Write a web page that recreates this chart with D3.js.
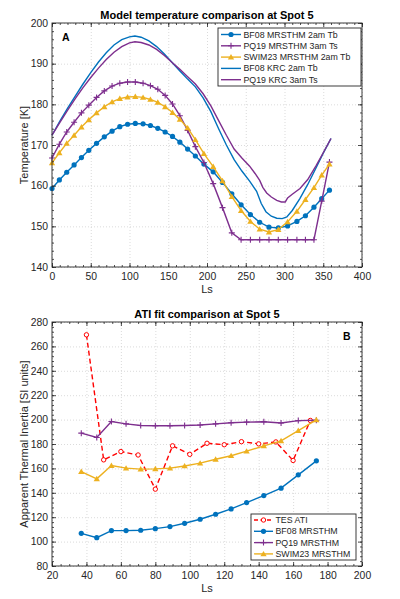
<!DOCTYPE html>
<html>
<head>
<meta charset="utf-8">
<script src="https://cdn.jsdelivr.net/npm/d3@7"></script>
<style>
    body { margin: 0; background: #fff; }
    svg text { font-family: "Liberation Sans", Arial, Helvetica, sans-serif; fill: #262626; }
</style>
</head>
<body>
<div id="chart"></div>
<script>

// ---------- Panel A: model temperature at Spot 5 ----------
const lsModel = [0, 9.5, 19, 28.5, 38, 47.5, 57.5, 67.5, 77.5, 87.5, 97.5, 107.5, 117.5, 127, 136.5,
    146, 155.5, 165, 175, 185, 196, 208, 220, 232, 244, 256, 268, 280, 292, 304, 316, 327, 338, 348, 358];
const bf08Mrsthm = [159.3, 161.4, 163.3, 165.1, 166.9, 168.7, 170.4, 172.0, 173.4, 174.5, 175.1, 175.3, 175.2, 174.8, 174.1,
    173.2, 172.1, 170.7, 169.0, 167.3, 165.3, 163.4, 160.8, 158.0, 155.3, 152.9, 151.0, 149.8, 149.6, 150.1, 151.2, 152.6, 154.7, 156.8, 158.9];
const pq19Mrsthm = [166.8, 170.2, 173.2, 175.6, 177.9, 179.8, 181.7, 183.3, 184.5, 185.2, 185.5, 185.5, 185.2, 184.6, 183.7,
    182.2, 180.1, 177.2, 173.6, 169.6, 165.7, 160.5, 154.6, 148.4, 146.7, 146.7, 146.7, 146.7, 146.7, 146.7, 146.7, 146.7, 146.7, 156.2, 165.8];
const swim23Mrsthm = [165.6, 168.1, 170.4, 172.4, 174.4, 176.2, 177.9, 179.4, 180.6, 181.4, 181.8, 181.9, 181.7, 181.2, 180.5,
    179.4, 178.0, 176.3, 174.2, 171.3, 167.9, 164.7, 161.2, 157.3, 153.9, 151.2, 149.3, 148.6, 149.2, 151.1, 153.7, 156.6, 159.5, 162.6, 165.3];

const lsBf08Krc = [0, 10, 20, 30, 40, 50, 60, 70, 80, 90, 100, 107, 115, 125, 135, 145, 155, 165, 175, 185, 195, 205, 215,
    225, 235, 245, 255, 264, 270, 276, 283, 290, 297, 303, 310, 320, 330, 340, 350, 360];
const bf08Krc = [172.4, 175.8, 179.0, 182.0, 185.0, 187.8, 190.4, 192.7, 194.6, 195.9, 196.6, 196.8, 196.5, 195.6, 194.2, 192.4,
    190.3, 188.2, 186.2, 184.3, 181.6, 178.2, 174.0, 170.0, 166.4, 163.6, 161.1, 158.6, 155.6, 153.6, 152.5, 152.0, 151.9, 152.3,
    153.9, 156.9, 160.3, 164.1, 168.0, 171.6];
const lsPq19Krc = [0, 10, 20, 30, 40, 50, 60, 70, 80, 90, 100, 107, 115, 125, 135, 145, 155, 165, 175, 185, 195, 205, 215,
    225, 235, 245, 255, 262, 268, 272, 277, 283, 290, 296, 301, 304, 310, 320, 330, 341, 350, 360];
const pq19Krc = [172.4, 175.5, 178.5, 181.4, 184.1, 186.6, 188.9, 191.0, 192.8, 194.2, 195.1, 195.4, 195.2, 194.6, 193.5, 192.0,
    190.3, 188.6, 186.8, 185.0, 182.6, 179.6, 176.0, 172.4, 169.0, 166.8, 164.8, 163.0, 161.3, 159.6, 158.2, 157.2, 156.4, 156.0,
    156.0, 157.0, 157.9, 159.3, 161.5, 165.0, 168.1, 171.6];

// ---------- Panel B: ATI fit at Spot 5 ----------
const lsTes = [40, 50, 60, 70, 80, 90, 100, 110, 120, 130, 140, 150, 160, 170];
const tesAti = [269.5, 167.0, 173.8, 171.0, 143.0, 178.5, 171.5, 180.6, 179.4, 181.9, 180.1, 181.7, 166.5, 199.3];

const lsFit = [37, 46, 54.5, 63, 71.5, 80, 88.5, 97, 106, 115, 124, 133, 143, 153, 163, 173.5];
const bf08Ati = [106.8, 103.2, 109.0, 109.0, 109.3, 110.6, 112.3, 115.0, 118.3, 122.4, 126.8, 132.0, 137.7, 143.8, 154.7, 166.2];
const pq19Ati = [188.9, 185.3, 198.4, 196.5, 195.2, 195.0, 195.0, 195.2, 195.6, 196.5, 197.4, 197.9, 198.2, 197.2, 199.2, 199.5];
const swim23Ati = [157.4, 151.4, 162.3, 160.2, 159.4, 159.6, 160.2, 162.0, 164.3, 167.5, 170.4, 174.1, 178.5, 182.6, 191.0, 199.8];

// tick labels
const xTicksA = [0, 50, 100, 150, 200, 250, 300, 350, 400];
const yTicksA = [140, 150, 160, 170, 180, 190, 200];
const xTicksB = [20, 40, 60, 80, 100, 120, 140, 160, 180, 200];
const yTicksB = [80, 100, 120, 140, 160, 180, 200, 220, 240, 260, 280];

const BLUE = "#0072BD", PURPLE = "#7E2F8E", YELLOW = "#EDB120", RED = "#FF0000";


class PanelVis {

    constructor(svg, cfg) {
        this.svg = svg;
        this.cfg = cfg;
        this.initVis();
    }

    initVis() {
        let vis = this;
        let c = vis.cfg;

        vis.left = 52;
        vis.right = 362;
        vis.width = vis.right - vis.left;
        vis.height = c.bottom - c.top;

        vis.g = vis.svg.append("g")
            .attr("transform", "translate(" + vis.left + "," + c.top + ")");

        vis.x = d3.scaleLinear().domain(c.xDomain).range([0, vis.width]);
        vis.y = d3.scaleLinear().domain(c.yDomain).range([vis.height, 0]);

        // dotted grid
        vis.g.append("g")
            .attr("class", "grid")
            .attr("transform", "translate(0," + vis.height + ")")
            .call(d3.axisBottom(vis.x).tickValues(c.xTicks).tickSize(-vis.height).tickFormat(""));
        vis.g.append("g")
            .attr("class", "grid")
            .call(d3.axisLeft(vis.y).tickValues(c.yTicks).tickSize(-vis.width).tickFormat(""));
        vis.g.selectAll(".grid .domain").remove();
        vis.g.selectAll(".grid line")
            .attr("stroke", "#d2d2d2")
            .attr("stroke-width", 0.8)
            .attr("stroke-dasharray", "1,2");

        vis.updateVis();
    }

    drawMarker(sel, type, color) {
        if (type === "circle") {
            sel.append("circle").attr("r", 2.6).attr("fill", color);
        } else if (type === "open") {
            sel.append("circle").attr("r", 2.2).attr("fill", "#fff")
                .attr("stroke", color).attr("stroke-width", 1);
        } else if (type === "plus") {
            sel.append("path").attr("d", "M-3,0H3M0,-3V3")
                .attr("stroke", color).attr("stroke-width", 1.1);
        } else if (type === "tri") {
            sel.append("path").attr("d", d3.symbol(d3.symbolTriangle, 17)())
                .attr("transform", "translate(0,0.6)")
                .attr("fill", color);
        }
    }

    updateVis() {
        let vis = this;
        let c = vis.cfg;

        let line = d3.line()
            .x(d => vis.x(d[0]))
            .y(d => vis.y(d[1]));

        c.series.forEach(s => {
            let pts = s.xs.map((v, i) => [v, s.ys[i]]);
            vis.g.append("path")
                .datum(pts)
                .attr("d", line)
                .attr("fill", "none")
                .attr("stroke", s.color)
                .attr("stroke-width", 1.4)
                .attr("stroke-dasharray", s.dash ? "5,3" : null);

            if (s.marker) {
                vis.g.append("g").selectAll("g")
                    .data(pts)
                    .join("g")
                    .attr("transform", d => "translate(" + vis.x(d[0]) + "," + vis.y(d[1]) + ")")
                    .each(function () { vis.drawMarker(d3.select(this), s.marker, s.color); });
            }
        });

        // axes: inward major and minor ticks on all four sides
        let axes = [
            {ax: d3.axisBottom(vis.x).tickValues(c.xTicks).tickSize(-4).tickPadding(6), t: "translate(0," + vis.height + ")", lab: true},
            {ax: d3.axisBottom(vis.x).tickValues(c.xMinor).tickSize(-2).tickFormat(""), t: "translate(0," + vis.height + ")"},
            {ax: d3.axisTop(vis.x).tickValues(c.xTicks).tickSize(-4).tickFormat(""), t: null},
            {ax: d3.axisTop(vis.x).tickValues(c.xMinor).tickSize(-2).tickFormat(""), t: null},
            {ax: d3.axisLeft(vis.y).tickValues(c.yTicks).tickSize(-4).tickPadding(4), t: null, lab: true},
            {ax: d3.axisLeft(vis.y).tickValues(c.yMinor).tickSize(-2).tickFormat(""), t: null},
            {ax: d3.axisRight(vis.y).tickValues(c.yTicks).tickSize(-4).tickFormat(""), t: "translate(" + vis.width + ",0)"},
            {ax: d3.axisRight(vis.y).tickValues(c.yMinor).tickSize(-2).tickFormat(""), t: "translate(" + vis.width + ",0)"}
        ];
        axes.forEach(a => {
            let g = vis.g.append("g").attr("class", "axis").attr("transform", a.t).call(a.ax);
            g.select(".domain").remove();
            g.attr("font-family", null).attr("font-size", null);
            g.selectAll("line").attr("stroke", "#262626").attr("stroke-width", 0.8);
            g.selectAll("text").attr("font-size", 10.4).attr("fill", "#262626");
        });

        // box
        vis.g.append("rect")
            .attr("width", vis.width).attr("height", vis.height)
            .attr("fill", "none").attr("stroke", "#262626").attr("stroke-width", 0.9);

        // titles and labels
        vis.svg.append("text")
            .attr("x", vis.left + vis.width / 2).attr("y", c.top - 4.5)
            .attr("text-anchor", "middle").attr("font-size", 11).attr("font-weight", "bold")
            .style("fill", "#000")
            .text(c.title);
        vis.svg.append("text")
            .attr("x", vis.left + vis.width / 2).attr("y", c.bottom + 26)
            .attr("text-anchor", "middle").attr("font-size", 11)
            .text("Ls");
        vis.svg.append("text")
            .attr("transform", "translate(28," + (c.top + vis.height / 2) + ") rotate(-90)")
            .attr("text-anchor", "middle").attr("font-size", 11)
            .text(c.yLabel);
        vis.svg.append("text")
            .attr("x", c.letterPos[0]).attr("y", c.letterPos[1])
            .attr("font-size", 10.5).attr("font-weight", "bold")
            .style("fill", "#000")
            .text(c.letter);

        // legend
        let L = c.legend;
        vis.svg.append("rect")
            .attr("x", L.x).attr("y", L.y).attr("width", L.w).attr("height", L.h)
            .attr("fill", "#fff").attr("stroke", "#262626").attr("stroke-width", 0.9);
        c.series.filter(s => s.label).forEach((s, i) => {
            let cy = L.y + L.pad + i * L.step;
            let gl = vis.svg.append("g");
            gl.append("line")
                .attr("x1", L.x + 3).attr("x2", L.x + 3 + L.lineLen)
                .attr("y1", cy).attr("y2", cy)
                .attr("stroke", s.color).attr("stroke-width", 1.4)
                .attr("stroke-dasharray", s.dash ? "4,2.5" : null);
            if (s.marker) {
                let gm = gl.append("g").attr("transform", "translate(" + (L.x + 3 + L.lineLen / 2) + "," + cy + ")");
                vis.drawMarker(gm, s.marker, s.color);
            }
            gl.append("text")
                .attr("x", L.x + 3 + L.lineLen + 2.5).attr("y", cy).attr("dy", "0.35em")
                .attr("font-size", 8.8)
                .text(s.label);
        });
    }
}


const svg = d3.select("#chart").append("svg")
    .attr("width", 400)
    .attr("height", 599);

let panelA = new PanelVis(svg, {
    top: 23, bottom: 267,
    xDomain: [0, 400], yDomain: [140, 200],
    xTicks: xTicksA, yTicks: yTicksA,
    xMinor: d3.range(0, 401, 10), yMinor: d3.range(140, 201, 2),
    title: "Model temperature comparison at Spot 5",
    yLabel: "Temperature [K]",
    letter: "A", letterPos: [62, 41],
    legend: {x: 218, y: 28, w: 143, h: 58, pad: 6.5, step: 11.3, lineLen: 20},
    series: [
        {xs: lsModel, ys: bf08Mrsthm, color: BLUE, marker: "circle", label: "BF08 MRSTHM 2am Tb"},
        {xs: lsModel, ys: pq19Mrsthm, color: PURPLE, marker: "plus", label: "PQ19 MRSTHM 3am Ts"},
        {xs: lsModel, ys: swim23Mrsthm, color: YELLOW, marker: "tri", label: "SWIM23 MRSTHM 2am Tb"},
        {xs: lsBf08Krc, ys: bf08Krc, color: BLUE, label: "BF08 KRC 2am Tb"},
        {xs: lsPq19Krc, ys: pq19Krc, color: PURPLE, label: "PQ19 KRC 3am Ts"}
    ]
});

let panelB = new PanelVis(svg, {
    top: 322, bottom: 566,
    xDomain: [20, 200], yDomain: [80, 280],
    xTicks: xTicksB, yTicks: yTicksB,
    xMinor: d3.range(20, 201, 5), yMinor: d3.range(80, 281, 4),
    title: "ATI fit comparison at Spot 5",
    yLabel: "Apparent Thermal Inertia [SI units]",
    letter: "B", letterPos: [343, 339.5],
    legend: {x: 251, y: 514, w: 105, h: 46, pad: 6, step: 11.3, lineLen: 19},
    series: [
        {xs: lsTes, ys: tesAti, color: RED, marker: "open", dash: true, label: "TES ATI"},
        {xs: lsFit, ys: bf08Ati, color: BLUE, marker: "circle", label: "BF08 MRSTHM"},
        {xs: lsFit, ys: pq19Ati, color: PURPLE, marker: "plus", label: "PQ19 MRSTHM"},
        {xs: lsFit, ys: swim23Ati, color: YELLOW, marker: "tri", label: "SWIM23 MRSTHM"}
    ]
});

</script>
</body>
</html>
